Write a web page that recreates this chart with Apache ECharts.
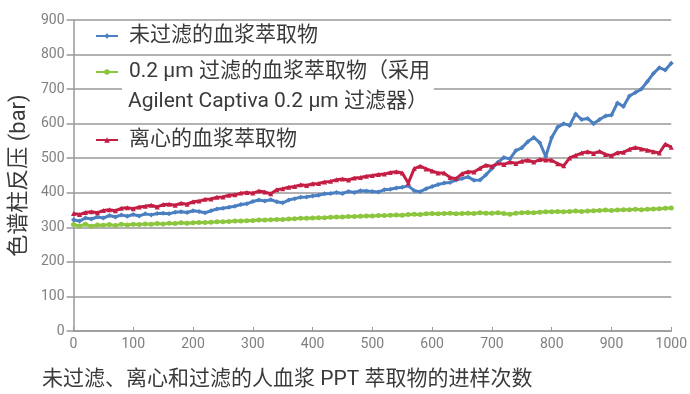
<!DOCTYPE html>
<html>
<head>
<meta charset="utf-8">
<script src="https://cdn.jsdelivr.net/npm/echarts@6/dist/echarts.min.js"></script>
<style>
  html, body { margin: 0; padding: 0; background: #fff; }
  #chart { width: 690px; height: 394px; }
</style>
</head>
<body>
<div id="chart"></div>
<script>
// 进样次数 (每 10 次取一个读数)
var injections = [];
for (var i = 0; i <= 1000; i += 10) injections.push(i);

var yTicks = [0, 100, 200, 300, 400, 500, 600, 700, 800, 900];
var xTicks = [0, 100, 200, 300, 400, 500, 600, 700, 800, 900, 1000];

var seriesNames = [
  '未过滤的血浆萃取物',
  '0.2 μm 过滤的血浆萃取物（采用',
  '离心的血浆萃取物'
];
var legendLine2 = 'Agilent Captiva 0.2 μm 过滤器）';

// 未过滤
var unfiltered = [
  322, 318, 327, 324, 330, 327, 334, 330, 336, 332,
  337, 333, 339, 336, 340, 341, 339, 344, 345, 343,
  348, 346, 342, 348, 353, 355, 358, 361, 366, 368,
  375, 379, 376, 380, 374, 371, 379, 383, 387, 388,
  391, 393, 397, 398, 401, 398, 404, 401, 406, 405,
  404, 402, 409, 410, 414, 416, 420, 406, 403, 412,
  418, 424, 428, 430, 437, 441, 446, 436, 437, 452,
  470, 488, 502, 498, 522, 530, 548, 560, 545, 505,
  560, 590, 600, 595, 628, 612, 615, 600, 612, 622,
  625, 660, 650, 680, 690, 700, 722, 745, 762, 755,
  775
];

// 0.2 μm 过滤
var filtered = [
  308, 304, 309, 303, 307, 306, 308, 305, 309, 307,
  309, 308, 310, 309, 311, 310, 312, 311, 313, 312,
  313, 314, 314, 315, 316, 316, 317, 318, 318, 319,
  320, 321, 321, 322, 323, 323, 324, 325, 326, 326,
  327, 328, 328, 329, 330, 330, 331, 331, 332, 333,
  333, 334, 334, 335, 336, 335, 337, 338, 337, 339,
  340, 339, 340, 341, 339, 340, 341, 340, 342, 341,
  341, 342, 340, 338, 341, 342, 343, 342, 344, 345,
  345, 346, 345, 346, 347, 346, 347, 348, 349, 350,
  349, 350, 351, 351, 352, 351, 352, 353, 354, 355,
  356
];

// 离心
var centrifuged = [
  340, 337, 343, 345, 342, 349, 351, 348, 355, 357,
  354, 359, 361, 364, 359, 366, 367, 364, 370, 367,
  374, 376, 381, 382, 387, 388, 393, 394, 399, 401,
  399, 405, 402, 397, 409, 412, 416, 418, 423, 421,
  426, 427, 431, 433, 438, 440, 437, 443, 444, 448,
  450, 453, 454, 459, 461, 457, 428, 470, 477, 469,
  463, 457, 457, 444, 441, 455, 461, 460, 471, 480,
  476, 486, 482, 489, 485, 491, 494, 489, 496, 495,
  494, 484, 478, 501, 508, 515, 519, 514, 520, 511,
  507, 516, 517, 526, 531, 527, 523, 519, 515, 541,
  532
];

var colors = ['#4a7fc1', '#8cc63f', '#c41e45'];
var symbols = ['diamond', 'circle', 'triangle'];
var values = [unfiltered, filtered, centrifuged];

function pairs(arr) {
  return arr.map(function(v, k) { return [injections[k], v]; });
}

var tickFont = '"Liberation Sans Narrow", "Roboto", sans-serif';
var textFont = 'Roboto, "Noto Sans CJK SC", sans-serif';

var legendTops = [21, 57, 125];
var legends = seriesNames.map(function(name, k) {
  return {
    data: [name],
    orient: 'vertical',
    left: 95,
    top: legendTops[k],
    padding: 0,
    itemWidth: 22,
    itemHeight: 7,
    itemGap: 0,
    selectedMode: false,
    textStyle: {
      fontFamily: textFont,
      fontSize: 21,
      color: '#3a3a3a',
      lineHeight: 30,
      backgroundColor: '#fff',
      padding: [0, 6, 0, 6]
    }
  };
});

var chart = echarts.init(document.getElementById('chart'));

chart.setOption({
  animation: false,
  backgroundColor: '#fff',
  grid: { left: 73, right: 16, top: 20, bottom: 63 },
  legend: legends,
  title: {
    text: '未过滤、离心和过滤的人血浆 PPT 萃取物的进样次数',
    left: 42,
    top: 369,
    padding: 0,
    textStyle: { fontFamily: textFont, fontSize: 21, fontWeight: 'normal', color: '#3a3a3a' }
  },
  graphic: [{
    type: 'text',
    left: 122,
    top: 83,
    z: 100,
    style: {
      text: legendLine2,
      font: '21px ' + textFont,
      fill: '#3a3a3a',
      lineHeight: 30,
      backgroundColor: '#fff',
      padding: [4, 6, 0, 6]
    }
  }],
  xAxis: {
    type: 'value',
    min: xTicks[0],
    max: xTicks[xTicks.length - 1],
    interval: 100,
    axisLine: { lineStyle: { color: '#999', width: 1.5 } },
    axisTick: { show: true, inside: true, length: 4, lineStyle: { color: '#999' } },
    splitLine: { show: false },
    axisLabel: {
      color: '#808080', fontSize: 14, fontFamily: tickFont, margin: 6,
      formatter: function(v) { return String(v); }
    }
  },
  yAxis: {
    type: 'value',
    min: yTicks[0],
    max: yTicks[yTicks.length - 1],
    interval: 100,
    name: '色谱柱反压 (bar)',
    nameLocation: 'middle',
    nameGap: 36,
    nameTextStyle: { fontFamily: textFont, fontSize: 22, color: '#3a3a3a' },
    axisLine: { show: true, lineStyle: { color: '#999', width: 1.5 } },
    axisTick: { show: true, length: 7, lineStyle: { color: '#999', width: 1.5 } },
    splitLine: { lineStyle: { color: '#999', width: 1.5 } },
    axisLabel: { color: '#808080', fontSize: 14, fontFamily: tickFont, margin: 9 }
  },
  series: seriesNames.map(function(name, k) {
    return {
      name: name,
      type: 'line',
      data: pairs(values[k]),
      symbol: symbols[k],
      symbolSize: 5,
      showSymbol: true,
      color: colors[k],
      lineStyle: { width: 3, color: colors[k] },
      itemStyle: { color: colors[k] },
      z: k === 1 ? 2 : 3
    };
  })
});
</script>
</body>
</html>
